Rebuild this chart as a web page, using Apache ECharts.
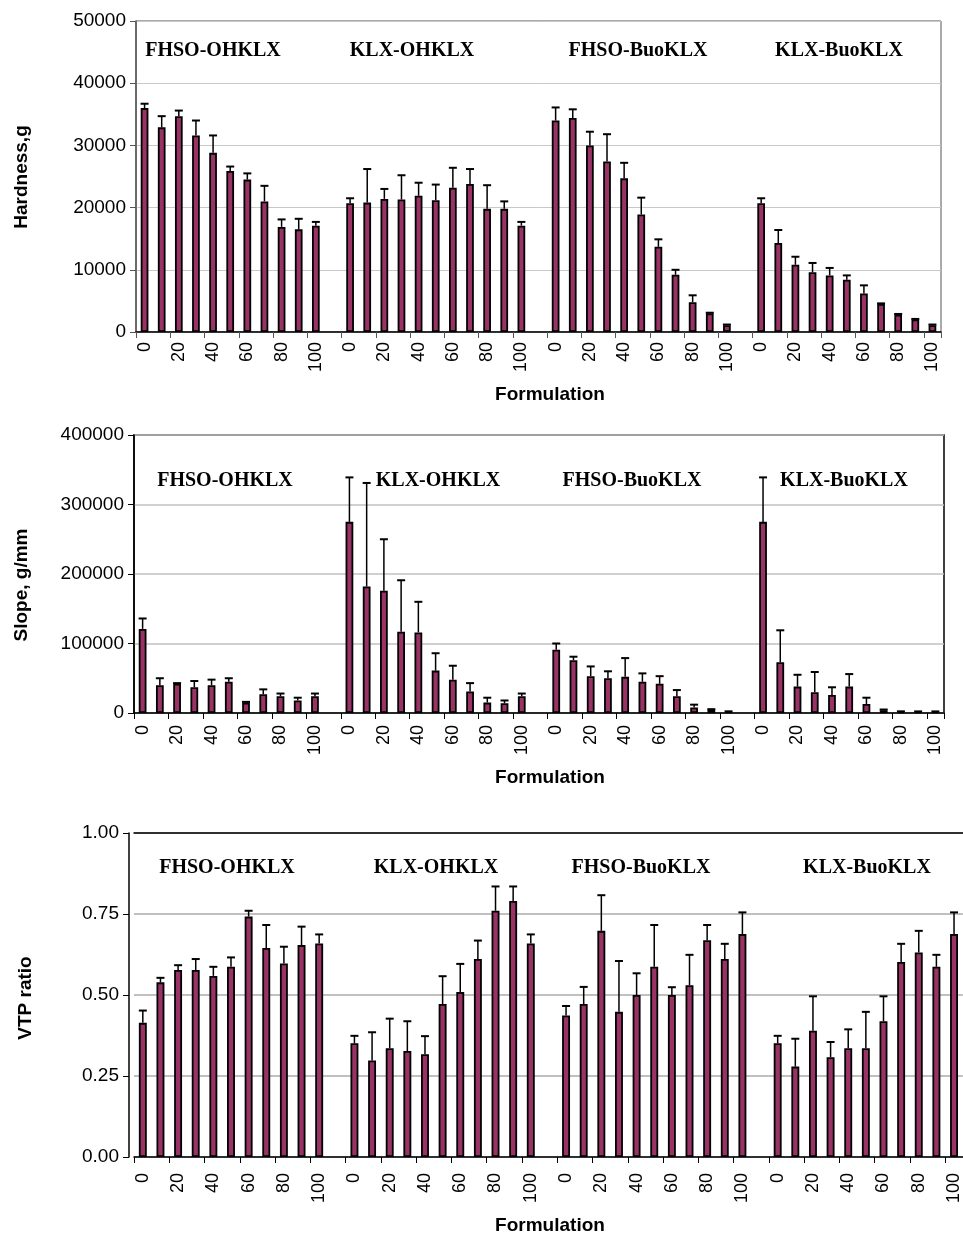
<!DOCTYPE html>
<html>
<head>
<meta charset="utf-8">
<script src="https://cdn.jsdelivr.net/npm/echarts@6/dist/echarts.min.js"></script>
<style>
html,body{margin:0;padding:0;background:#fff;}
#chart{width:963px;height:1236px;}
</style>
</head>
<body>
<div id="chart"></div>
<script>
// ---- data ----
const formulations = ['0','10','20','30','40','50','60','70','80','90','100'];
const groupNames = ['FHSO-OHKLX','KLX-OHKLX','FHSO-BuoKLX','KLX-BuoKLX'];

// Hardness, g (mean) and upper error
const hardFhsoOh = [36000,32900,34700,31600,28800,25900,24500,21000,16900,16500,17100];
const hardFhsoOhErr = [700,1800,900,2400,2800,700,1000,2500,1200,1700,600];
const hardKlxOh = [20700,20800,21400,21300,21900,21200,23200,23800,19800,19800,17100];
const hardKlxOhErr = [800,5400,1600,3900,2100,2500,3200,2400,3800,1200,600];
const hardFhsoBuo = [34000,34400,30000,27400,24700,18900,13700,9200,4800,3000,1100];
const hardFhsoBuoErr = [2100,1400,2200,4400,2500,2700,1200,800,1100,100,100];
const hardKlxBuo = [20700,14300,10800,9600,9100,8400,6200,4500,2800,2000,1100];
const hardKlxBuoErr = [800,2100,1300,1500,1200,700,1300,100,100,100,100];

// Slope, g/mm
const slopeFhsoOh = [121000,40000,42000,37000,40000,45000,15000,27000,24000,18000,24000];
const slopeFhsoOhErr = [15000,10000,1000,9000,8000,5000,1000,7000,4000,4000,4000];
const slopeKlxOh = [275000,182000,176000,117000,116000,61000,48000,31000,15000,14000,24000];
const slopeKlxOhErr = [64000,149000,74000,74000,44000,25000,20000,12000,7000,4000,4000];
const slopeFhsoBuo = [91000,76000,53000,50000,52000,45000,42000,24000,8000,5000,2000];
const slopeFhsoBuoErr = [9000,5000,14000,10000,27000,12000,11000,9000,4000,500,400];
const slopeKlxBuo = [275000,73000,38000,30000,26000,38000,13000,4000,2000,2000,2000];
const slopeKlxBuoErr = [64000,46000,17000,29000,11000,18000,9000,1000,400,300,300];

// VTP ratio
const vtpFhsoOh = [0.414,0.539,0.577,0.577,0.559,0.587,0.742,0.645,0.597,0.654,0.659];
const vtpFhsoOhErr = [0.038,0.014,0.015,0.034,0.028,0.029,0.018,0.071,0.052,0.057,0.028];
const vtpKlxOh = [0.351,0.298,0.336,0.327,0.317,0.472,0.509,0.611,0.760,0.790,0.659];
const vtpKlxOhErr = [0.023,0.087,0.091,0.092,0.056,0.086,0.087,0.057,0.075,0.045,0.028];
const vtpFhsoBuo = [0.437,0.472,0.698,0.448,0.500,0.587,0.500,0.530,0.669,0.611,0.688];
const vtpFhsoBuoErr = [0.029,0.053,0.110,0.157,0.067,0.129,0.024,0.094,0.047,0.047,0.067];
const vtpKlxBuo = [0.351,0.279,0.390,0.308,0.336,0.336,0.419,0.602,0.631,0.587,0.688];
const vtpKlxBuoErr = [0.023,0.086,0.106,0.047,0.058,0.112,0.077,0.056,0.067,0.037,0.067];

const yTitles = ['Hardness,g','Slope, g/mm','VTP ratio'];
const xTitle = 'Formulation';

// ---- build ----
function buildCats(){
  const out=[];
  for(let g=0; g<4; g++){ if(g>0) out.push(''); formulations.forEach(f=>out.push(f)); }
  return out;
}
function buildBars(groups){
  const out=[];
  groups.forEach((arr,g)=>{ if(g>0) out.push('-'); arr.forEach(v=>out.push(v)); });
  return out;
}
function buildErr(groups, errs){
  const out=[]; let idx=0;
  groups.forEach((arr,g)=>{
    if(g>0) idx++;
    arr.forEach((v,i)=>{ out.push([idx, v, errs[g][i]]); idx++; });
  });
  return out;
}
const cats = buildCats();

function renderErr(params, api){
  const x=api.value(0), v=api.value(1), e=api.value(2);
  const b=api.coord([x,v]), t=api.coord([x,v+e]);
  const half=4;
  return {type:'group', children:[
    {type:'line', shape:{x1:b[0],y1:b[1],x2:t[0],y2:t[1]}, style:{stroke:'#000',lineWidth:1.5}},
    {type:'line', shape:{x1:t[0]-half,y1:t[1],x2:t[0]+half,y2:t[1]}, style:{stroke:'#000',lineWidth:2}}
  ]};
}

const panels = [
  {vals:[hardFhsoOh,hardKlxOh,hardFhsoBuo,hardKlxBuo], errs:[hardFhsoOhErr,hardKlxOhErr,hardFhsoBuoErr,hardKlxBuoErr]},
  {vals:[slopeFhsoOh,slopeKlxOh,slopeFhsoBuo,slopeKlxBuo], errs:[slopeFhsoOhErr,slopeKlxOhErr,slopeFhsoBuoErr,slopeKlxBuoErr]},
  {vals:[vtpFhsoOh,vtpKlxOh,vtpFhsoBuo,vtpKlxBuo], errs:[vtpFhsoOhErr,vtpKlxOhErr,vtpFhsoBuoErr,vtpKlxBuoErr]}
];

const grids = [
  {left:136, top:21, width:805, height:311, show:true, borderColor:'#555', borderWidth:1, containLabel:false},
  {left:134, top:435, width:810, height:278, show:true, borderColor:'#000', borderWidth:1.5, containLabel:false},
  {left:134, top:833, width:832, height:324, show:false, containLabel:false}
];
const yCfg = [
  {max:50000, interval:10000, line:'#555', split:{color:'#c8c8c8',width:1}, fmt:v=>String(v), offset:0},
  {max:400000, interval:100000, line:'#000', split:{color:'#c0c0c0',width:1.5}, fmt:v=>String(v), offset:0},
  {max:1, interval:0.25, line:'#000', split:{color:'#c0c0c0',width:2}, fmt:v=>v.toFixed(2), offset:5}
];
const labelMargins = [10, 12, 16];

const xAxes=[], yAxes=[], series=[];
panels.forEach((p,i)=>{
  xAxes.push({
    type:'category', gridIndex:i, data:cats, boundaryGap:true,
    axisLine:{show:true, lineStyle:{color:'#000', width:1.5}},
    axisTick:{show:true, interval:1, length:6, lineStyle:{color: i===0?'#555':'#000'}},
    axisLabel:{interval:1, rotate:90, fontSize:18, color:'#000', fontFamily:'Liberation Sans', margin:labelMargins[i]},
    splitLine:{show:false}
  });
  yAxes.push({
    type:'value', gridIndex:i, min:0, max:yCfg[i].max, interval:yCfg[i].interval, offset:yCfg[i].offset,
    axisLine:{show:true, lineStyle:{color:yCfg[i].line, width:1.5}},
    axisTick:{show:true, length:6, lineStyle:{color:yCfg[i].line}},
    axisLabel:{fontSize:19, color:'#000', fontFamily:'Liberation Sans', margin:10, formatter:yCfg[i].fmt},
    splitLine:{show:true, lineStyle:{color:yCfg[i].split.color, width:yCfg[i].split.width}}
  });
  series.push({
    type:'bar', xAxisIndex:i, yAxisIndex:i, data:buildBars(p.vals), barWidth:'45%',
    itemStyle:{color:'#993366', borderColor:'#000', borderWidth:1.8}, z:2
  });
  series.push({
    type:'custom', xAxisIndex:i, yAxisIndex:i, data:buildErr(p.vals,p.errs),
    encode:{x:0,y:1}, renderItem:renderErr, z:3
  });
});
// top frame line for the third panel
xAxes.push({
  type:'category', gridIndex:2, position:'top', data:cats,
  axisLine:{show:true, lineStyle:{color:'#000', width:1.5}},
  axisTick:{show:false}, axisLabel:{show:false}, splitLine:{show:false}
});

const groupLabelPos = [
  {y:51, xs:[213,412,638,839]},
  {y:481, xs:[225,438,632,844]},
  {y:868, xs:[227,436,641,867]}
];
const graphics=[];
groupLabelPos.forEach(gp=>{
  gp.xs.forEach((x,k)=>{
    graphics.push({type:'text', x:x, y:gp.y, z:10, style:{text:groupNames[k], fill:'#000',
      font:'bold 20px "Liberation Serif"', textAlign:'center', textVerticalAlign:'middle'}});
  });
});
const yTitlePos = [[22,177],[22,585],[26,998]];
yTitlePos.forEach((pt,i)=>{
  graphics.push({type:'text', x:pt[0], y:pt[1], rotation:Math.PI/2, z:10, style:{text:yTitles[i], fill:'#000',
    font:'bold 19px "Liberation Sans"', textAlign:'center', textVerticalAlign:'middle'}});
});
[395,778,1226].forEach(y=>{
  graphics.push({type:'text', x:550, y:y, z:10, style:{text:xTitle, fill:'#000',
    font:'bold 19px "Liberation Sans"', textAlign:'center', textVerticalAlign:'middle'}});
});

const chart = echarts.init(document.getElementById('chart'), null, {renderer:'canvas'});
chart.setOption({
  animation:false,
  backgroundColor:'#fff',
  grid:grids, xAxis:xAxes, yAxis:yAxes, series:series, graphic:graphics
});
</script>
</body>
</html>
